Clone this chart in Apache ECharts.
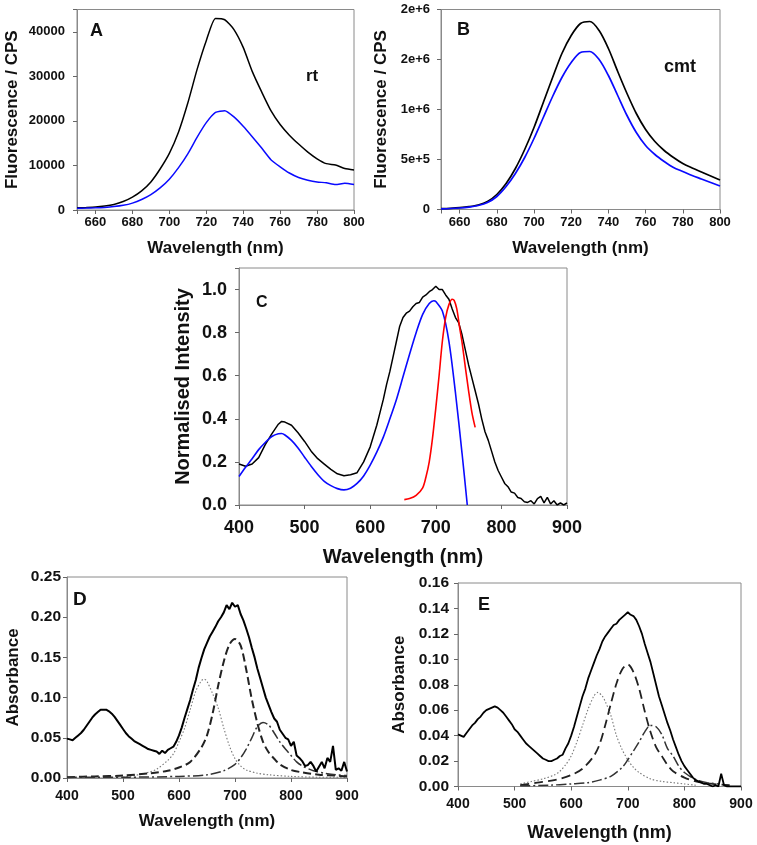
<!DOCTYPE html>
<html>
<head>
<meta charset="utf-8">
<script src="https://cdn.jsdelivr.net/npm/echarts/dist/echarts.min.js"></script>
<style>
html,body{margin:0;padding:0;background:#fff;}
#chart{width:757px;height:845px;}
</style>
</head>
<body>
<div id="chart"></div>
<script>
// ---------------- DATA ----------------
// Panel A (rt)
const wlA = [650,655,660,665,670,675,680,685,690,695,700,705,710,715,720,725,730,735,740,745,750,755,760,765,770,775,780,785,790,795,800];
const aBlack = [500,560,650,880,1250,1900,2900,4300,6300,9200,12700,17500,24000,31500,38000,43000,42700,40500,36500,31000,26500,22300,19200,16800,14800,13000,11500,10400,10100,9300,9000];
const aBlue  = [400,430,480,580,760,1050,1550,2350,3450,4950,6900,9500,12600,16300,19600,21900,22300,20900,18800,16400,13900,11300,9700,8300,7300,6700,6300,6100,5700,6000,5700];
// Panel B (cmt)
const wlB = [650,655,660,665,670,675,680,685,690,695,700,705,710,715,720,725,730,735,740,745,750,755,760,765,770,775,780,785,790,795,800];
const bBlack = [8000,12000,18000,28000,45000,80000,150000,260000,410000,600000,820000,1070000,1320000,1560000,1740000,1860000,1880000,1790000,1610000,1380000,1160000,960000,800000,680000,590000,520000,460000,415000,375000,335000,295000];
const bBlue  = [7000,10000,15000,24000,40000,70000,130000,230000,360000,520000,710000,920000,1130000,1320000,1470000,1570000,1580000,1500000,1340000,1140000,940000,770000,640000,550000,480000,420000,380000,340000,305000,270000,235000];
// Panel C
const wlCBlack = [400,410,420,430,440,450,460,465,470,480,490,500,510,520,530,540,550,560,570,580,590,
  600,605,610,615,620,625,630,635,640,645,650,655,660,665,670,675,680,685,690,695,700,705,710,715,720,725,730,735,740,745,750,755,760,765,770,775,780,785,790,795,800,805,810,815,820,825,830,835,840,845,850,855,860,865,870,875,880,885,890,895,900];
const cBlack = [0.19,0.18,0.19,0.22,0.28,0.33,0.375,0.388,0.385,0.37,0.335,0.295,0.25,0.215,0.19,0.165,0.145,0.136,0.14,0.15,0.2,
  0.27,0.32,0.37,0.43,0.49,0.56,0.62,0.69,0.76,0.83,0.87,0.89,0.9,0.92,0.935,0.94,0.965,0.975,0.99,1.0,1.015,1.0,1.0,0.975,0.955,0.91,0.87,0.845,0.79,0.72,0.65,0.59,0.53,0.47,0.4,0.34,0.3,0.25,0.2,0.16,0.13,0.1,0.085,0.06,0.055,0.035,0.03,0.015,0.012,0.02,0.005,0.03,0.04,0.01,0.035,0.005,0.02,0.0,0.01,0.0,0.01];
const wlCBlue = [400,410,420,430,440,450,460,465,470,480,490,500,510,520,530,540,550,560,570,580,590,600,610,620,630,640,650,660,670,680,690,697,700,710,720,730,740,748];
const cBlue = [0.132,0.175,0.215,0.257,0.29,0.318,0.331,0.332,0.325,0.3,0.265,0.222,0.18,0.142,0.11,0.09,0.076,0.07,0.078,0.1,0.135,0.185,0.245,0.315,0.4,0.49,0.595,0.7,0.8,0.885,0.935,0.948,0.945,0.9,0.76,0.52,0.24,0.0];
const wlCRed = [652,660,670,680,685,690,695,700,705,710,715,720,725,728,732,736,740,745,750,755,760];
const cRed = [0.025,0.03,0.045,0.08,0.13,0.2,0.31,0.45,0.6,0.76,0.87,0.93,0.955,0.95,0.91,0.83,0.755,0.64,0.53,0.43,0.36];
// Panel D
const wlD = [400,405,410,415,420,425,430,435,440,445,450,455,460,465,470,475,480,485,490,495,500,505,510,515,520,525,530,535,540,545,550,555,560,565,570,575,580,585,590,595,600,605,610,615,620,625,630,635,640,645,650,655,660,665,670,675,680,685,690,695,700,705,710,715,720,725,730,735,740,745,750,755,760,765,770,775,780,785,790,795,800,805,810,815,820,825,830,835,840,845,850,855,860,865,870,875,880,885,890,895,900];
const dBlack = [0.049,0.048,0.047,0.05,0.053,0.056,0.06,0.065,0.07,0.075,0.079,0.082,0.085,0.085,0.085,0.083,0.08,0.076,0.071,0.066,0.061,0.056,0.052,0.049,0.046,0.044,0.042,0.04,0.038,0.036,0.035,0.034,0.033,0.03,0.034,0.031,0.035,0.037,0.039,0.045,0.053,0.063,0.075,0.086,0.097,0.11,0.122,0.137,0.149,0.16,0.168,0.176,0.182,0.188,0.195,0.2,0.206,0.215,0.21,0.218,0.213,0.215,0.204,0.196,0.186,0.175,0.162,0.15,0.136,0.124,0.112,0.1,0.091,0.082,0.074,0.07,0.06,0.055,0.05,0.048,0.04,0.045,0.028,0.025,0.021,0.015,0.016,0.02,0.015,0.008,0.014,0.02,0.012,0.025,0.02,0.04,0.01,0.012,0.009,0.02,0.008];
const wlDDot = [500,520,540,560,580,590,600,610,620,630,640,645,650,660,670,680,690,700,710,720,740,760,800,850,900];
const dDot = [0.001,0.003,0.006,0.011,0.022,0.03,0.045,0.062,0.085,0.108,0.121,0.123,0.12,0.105,0.087,0.062,0.04,0.024,0.015,0.01,0.006,0.004,0.002,0.001,0.001];
const wlDDash = [400,450,500,550,580,600,620,640,650,660,670,680,690,700,710,720,730,740,750,760,770,780,800,820,850,880,900];
const dDash = [0.001,0.002,0.003,0.006,0.009,0.013,0.02,0.038,0.053,0.08,0.115,0.145,0.166,0.173,0.165,0.135,0.098,0.068,0.045,0.032,0.024,0.017,0.01,0.007,0.004,0.003,0.002];
const wlDDashDot = [400,500,600,650,680,700,710,720,730,740,750,760,770,780,790,800,810,820,840,860,880,900];
const dDashDot = [0.001,0.001,0.002,0.004,0.009,0.017,0.025,0.036,0.05,0.064,0.069,0.066,0.056,0.045,0.036,0.028,0.02,0.015,0.009,0.006,0.004,0.003];
// Panel E
const wlE = wlD;
const eBlack = [0.041,0.04,0.039,0.042,0.045,0.048,0.05,0.053,0.055,0.058,0.06,0.061,0.062,0.063,0.062,0.06,0.058,0.055,0.052,0.049,0.045,0.043,0.04,0.037,0.034,0.032,0.03,0.028,0.026,0.024,0.022,0.021,0.02,0.02,0.021,0.022,0.024,0.025,0.03,0.034,0.04,0.047,0.055,0.063,0.071,0.077,0.085,0.091,0.097,0.103,0.108,0.114,0.118,0.121,0.124,0.127,0.128,0.131,0.133,0.135,0.137,0.135,0.134,0.131,0.126,0.12,0.112,0.105,0.098,0.089,0.08,0.071,0.064,0.057,0.05,0.044,0.037,0.031,0.025,0.02,0.016,0.013,0.01,0.007,0.005,0.004,0.003,0.002,0.002,0.001,0.0,0.001,0.0,0.01,0.001,0.0,0.0,0.0,0.0,0.0,0.0];
const wlEDot = [510,530,550,570,580,590,600,610,620,630,640,647,655,660,670,680,690,700,710,720,740,760,780,800,820];
const eDot = [0.002,0.004,0.006,0.009,0.012,0.017,0.024,0.035,0.048,0.061,0.071,0.074,0.071,0.067,0.056,0.04,0.029,0.021,0.015,0.011,0.006,0.004,0.003,0.002,0.001];
const wlEDash = [510,540,570,600,620,640,650,660,670,680,690,700,710,720,730,740,750,760,770,780,800,820,850,880];
const eDash = [0.001,0.003,0.005,0.009,0.014,0.024,0.033,0.048,0.065,0.081,0.092,0.096,0.09,0.077,0.059,0.043,0.031,0.024,0.017,0.012,0.007,0.004,0.002,0.001];
const wlEDashDot = [510,560,600,630,650,670,690,700,710,720,730,740,750,760,770,780,790,800,820,840,860];
const eDashDot = [0.0005,0.001,0.002,0.003,0.005,0.008,0.015,0.021,0.028,0.035,0.043,0.048,0.047,0.041,0.03,0.024,0.016,0.011,0.0055,0.003,0.002];

// Tick labels
const abXTicks = ['660','680','700','720','740','760','780','800'];
const aYTicks = ['0','10000','20000','30000','40000'];
const bYTicks = ['0','5e+5','1e+6','2e+6','2e+6'];
const cdeXTicks = ['400','500','600','700','800','900'];
const cYTicks = ['0.0','0.2','0.4','0.6','0.8','1.0'];
const dYTicks = ['0.00','0.05','0.10','0.15','0.20','0.25'];
const eYTicks = ['0.00','0.02','0.04','0.06','0.08','0.10','0.12','0.14','0.16'];

// ---------------- HELPERS ----------------
const FONT = 'Liberation Sans, Arial, Helvetica, sans-serif';
function pairs(xs, ys){ return xs.map((x,i)=>[x, ys[i]]); }
function mapper(start, step, labels){
  return function(v){
    const k = (v - start) / step;
    const r = Math.round(k);
    if (Math.abs(k - r) > 1e-6 || r < 0 || r >= labels.length) return '';
    return labels[r];
  };
}
const GRID_BORDER = '#8a8a8a';
function xAx(idx, min, max, opts, fs, margin, name, nameFs, nameGap){
  return Object.assign({
    type:'value', gridIndex: idx, min: min, max: max, position:'bottom',
    axisLine:{show:true, onZero:false, lineStyle:{color:GRID_BORDER, width:1}},
    axisTick:{show:true, inside:false, length:4, lineStyle:{color:'#666'}},
    splitLine:{show:false},
    axisLabel:{fontFamily:FONT, fontWeight:'bold', fontSize:fs, color:'#111', margin:margin, showMinLabel:true, showMaxLabel:true, hideOverlap:false},
    name:name, nameLocation:'middle', nameGap:nameGap,
    nameTextStyle:{fontFamily:FONT, fontWeight:'bold', fontSize:nameFs, color:'#111'}
  }, opts);
}
function yAx(idx, min, max, opts, fs, margin, name, nameFs, nameGap){
  return Object.assign({
    type:'value', gridIndex: idx, min: min, max: max, position:'left',
    axisLine:{show:true, onZero:false, lineStyle:{color:GRID_BORDER, width:1}},
    axisTick:{show:true, inside:false, length:4, lineStyle:{color:'#666'}},
    splitLine:{show:false},
    axisLabel:{fontFamily:FONT, fontWeight:'bold', fontSize:fs, color:'#111', margin:margin, showMinLabel:true, showMaxLabel:true, hideOverlap:false},
    name:name, nameLocation:'middle', nameGap:nameGap, nameRotate:90,
    nameTextStyle:{fontFamily:FONT, fontWeight:'bold', fontSize:nameFs, color:'#111'}
  }, opts);
}
function line(xi, data, color, width, type, smooth){
  return {
    type:'line', xAxisIndex:xi, yAxisIndex:xi, data:data, showSymbol:false, symbol:'none',
    smooth: smooth || false,
    lineStyle:{color:color, width:width, type: type || 'solid'},
    clip:true, silent:true
  };
}

const chart = echarts.init(document.getElementById('chart'), null, {renderer:'canvas'});

const xA = xAx(0, 650, 800, {splitNumber:7}, 13, 6, 'Wavelength (nm)', 17, 30);
xA.axisLabel.formatter = mapper(660, 20, abXTicks);
const yA = yAx(0, 0, 45000, {interval:10000}, 13, 12, 'Fluorescence / CPS', 17, 56);
yA.axisLabel.formatter = mapper(0, 10000, aYTicks);

const xB = xAx(1, 650, 800, {splitNumber:7}, 13, 6, 'Wavelength (nm)', 17, 30);
xB.axisLabel.formatter = mapper(660, 20, abXTicks);
const yB = yAx(1, 0, 2000000, {interval:500000}, 13, 11, 'Fluorescence / CPS', 17, 51);
yB.axisLabel.formatter = mapper(0, 500000, bYTicks);

const xC = xAx(2, 400, 900, {interval:100}, 18, 14, 'Wavelength (nm)', 20, 42);
xC.axisLabel.formatter = mapper(400, 100, cdeXTicks);
const yC = yAx(2, 0, 1.1, {interval:0.2}, 18, 12, 'Normalised Intensity', 20, 46);
yC.axisLabel.formatter = mapper(0, 0.2, cYTicks);

const xD = xAx(3, 400, 900, {interval:100}, 14, 11, 'Wavelength (nm)', 17, 35);
xD.axisLabel.formatter = mapper(400, 100, cdeXTicks);
const yD = yAx(3, 0, 0.25, {interval:0.05}, 15.5, 6, 'Absorbance', 17, 45);
yD.axisLabel.formatter = mapper(0, 0.05, dYTicks);

const xE = xAx(4, 400, 900, {interval:100}, 14, 11, 'Wavelength (nm)', 18, 38);
xE.axisLabel.formatter = mapper(400, 100, cdeXTicks);
const yE = yAx(4, 0, 0.16, {interval:0.02}, 15.5, 9, 'Absorbance', 17, 50);
yE.axisLabel.formatter = mapper(0, 0.02, eYTicks);

const gridStyle = {show:true, borderColor:GRID_BORDER, borderWidth:1, backgroundColor:'transparent', containLabel:false};
const BLUE = '#0a0aff', RED = '#ff0000', BLK = '#000000';

const option = {
  animation:false,
  backgroundColor:'#ffffff',
  grid:[
    Object.assign({left:77, top:9.5, width:277, height:200.5}, gridStyle),
    Object.assign({left:441, top:9.5, width:279, height:200}, gridStyle),
    Object.assign({left:239, top:268, width:328, height:237}, gridStyle),
    Object.assign({left:67, top:577, width:280, height:201}, gridStyle),
    Object.assign({left:458, top:583, width:283, height:203.5}, gridStyle)
  ],
  xAxis:[xA, xB, xC, xD, xE],
  yAxis:[yA, yB, yC, yD, yE],
  series:[
    line(0, pairs(wlA, aBlack), BLK, 1.5, 'solid', 0.2),
    line(0, pairs(wlA, aBlue), BLUE, 1.5, 'solid', 0.2),
    line(1, pairs(wlB, bBlack), BLK, 1.7, 'solid', 0.3),
    line(1, pairs(wlB, bBlue), BLUE, 1.7, 'solid', 0.3),
    line(2, pairs(wlCBlack, cBlack), BLK, 1.5),
    line(2, pairs(wlCBlue, cBlue), BLUE, 1.6, 'solid', 0.3),
    line(2, pairs(wlCRed, cRed), RED, 1.6, 'solid', 0.3),
    line(3, pairs(wlDDot, dDot), '#777777', 1.1, [1.5, 2], 0.3),
    line(3, pairs(wlDDash, dDash), '#222222', 2, [8, 4], 0.3),
    line(3, pairs(wlDDashDot, dDashDot), '#333333', 1.5, [10, 3, 2, 3], 0.3),
    line(3, pairs(wlD, dBlack), BLK, 2),
    line(4, pairs(wlEDot, eDot), '#777777', 1.1, [1.5, 2], 0.3),
    line(4, pairs(wlEDash, eDash), '#222222', 1.8, [9, 5], 0.3),
    line(4, pairs(wlEDashDot, eDashDot), '#333333', 1.5, [10, 3, 2, 3], 0.3),
    line(4, pairs(wlE, eBlack), BLK, 1.8)
  ],
  graphic:[
    {type:'text', x:90, y:31.5, style:{text:'A', font:'bold 18px ' + FONT, fill:'#111', verticalAlign:'middle'}},
    {type:'text', x:306, y:76, style:{text:'rt', font:'bold 17px ' + FONT, fill:'#111', verticalAlign:'middle'}},
    {type:'text', x:457, y:30, style:{text:'B', font:'bold 18px ' + FONT, fill:'#111', verticalAlign:'middle'}},
    {type:'text', x:664, y:67, style:{text:'cmt', font:'bold 18px ' + FONT, fill:'#111', verticalAlign:'middle'}},
    {type:'text', x:256, y:302.5, style:{text:'C', font:'bold 16px ' + FONT, fill:'#111', verticalAlign:'middle'}},
    {type:'text', x:73, y:600, style:{text:'D', font:'bold 19px ' + FONT, fill:'#111', verticalAlign:'middle'}},
    {type:'text', x:478, y:605.5, style:{text:'E', font:'bold 18px ' + FONT, fill:'#111', verticalAlign:'middle'}}
  ]
};
chart.setOption(option);
</script>
</body>
</html>
